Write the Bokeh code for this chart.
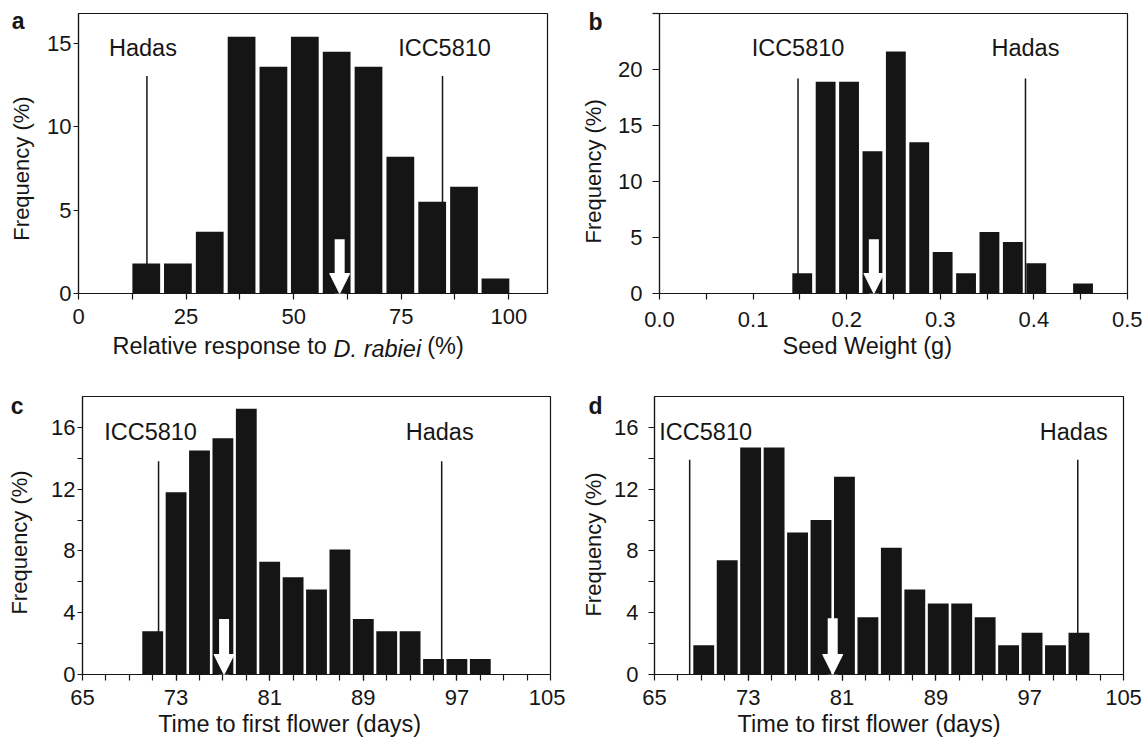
from bokeh.plotting import figure
from bokeh.models import Range1d, FixedTicker, Label, Arrow, NormalHead, NumeralTickFormatter, LinearAxis
from bokeh.layouts import row, column
from bokeh.embed import file_html
from bokeh.resources import INLINE

# ---------------- data ----------------
# (a) relative response to D. rabiei (%)
a_bins = [15.75, 23.1, 30.5, 37.9, 45.3, 52.6, 60.0, 67.4, 74.8, 82.2, 89.6, 96.9]
a_freq = [1.8, 1.8, 3.7, 15.4, 13.6, 15.4, 14.5, 13.6, 8.2, 5.5, 6.4, 0.9]
a_parents = ["Hadas", "ICC5810"]
a_parent_vals = [15.9, 84.6]
a_mean = 60.7

# (b) seed weight (g)
b_bins = [0.1525, 0.1775, 0.2025, 0.2275, 0.2525, 0.2775, 0.3025, 0.3275, 0.3525, 0.3775, 0.4025, 0.4525]
b_freq = [1.8, 18.9, 18.9, 12.7, 21.6, 13.5, 3.7, 1.8, 5.5, 4.6, 2.7, 0.9]
b_parents = ["ICC5810", "Hadas"]
b_parent_vals = [0.148, 0.391]
b_mean = 0.229

# (c) time to first flower (days)
c_bins = [71, 73, 75, 77, 79, 81, 83, 85, 87, 89, 91, 93, 95, 97, 99]
c_freq = [2.8, 11.8, 14.5, 15.3, 17.2, 7.3, 6.3, 5.5, 8.1, 3.6, 2.8, 2.8, 1.0, 1.0, 1.0]
c_parents = ["ICC5810", "Hadas"]
c_parent_vals = [71.5, 95.7]
c_mean = 77.1

# (d) time to first flower (days)
d_bins = [69.2, 71.2, 73.2, 75.2, 77.2, 79.2, 81.2, 83.2, 85.2, 87.2, 89.2, 91.2, 93.2, 95.2, 97.2, 99.2, 101.2]
d_freq = [1.9, 7.4, 14.7, 14.7, 9.2, 10.0, 12.8, 3.7, 8.2, 5.5, 4.6, 4.6, 3.7, 1.9, 2.7, 1.9, 2.7]
d_parents = ["ICC5810", "Hadas"]
d_parent_vals = [68.0, 101.1]
d_mean = 80.2

# tick labels
a_xticks = [0, 25, 50, 75, 100]
a_yticks = [0, 5, 10, 15]
b_xticks = [0.0, 0.1, 0.2, 0.3, 0.4, 0.5]
b_yticks = [0, 5, 10, 15, 20]
cd_xticks = [65, 73, 81, 89, 97, 105]
cd_yticks = [0, 4, 8, 12, 16]

# axis titles
Y_TITLE = "Frequency (%)"
A_X_TITLE = ["Relative response to", "D. rabiei", "(%)"]
B_X_TITLE = "Seed Weight (g)"
CD_X_TITLE = "Time to first flower (days)"

# ---------------- styling ----------------
FONT = "Liberation Sans"
INK = "#161616"
TICK_FS = "22px"
LAB_FS = "23.5px"
YLAB_FS = "22px"
LET_FS = "23px"


def base_fig(width, height, lb, rb, tb, bb, xr, yr):
    p = figure(width=width, height=height, x_range=Range1d(*xr), y_range=Range1d(*yr),
               output_backend="svg", toolbar_location=None, tools="",
               min_border_left=lb, min_border_right=rb, min_border_top=tb, min_border_bottom=bb)
    p.xgrid.visible = False
    p.ygrid.visible = False
    p.background_fill_color = "white"
    p.border_fill_color = "white"
    p.outline_line_color = INK
    p.outline_line_width = 1.2
    p.outline_line_alpha = 1
    for ax in (p.xaxis[0], p.yaxis[0]):
        ax.axis_line_color = INK
        ax.axis_line_width = 1.2
        ax.major_tick_line_color = INK
        ax.minor_tick_line_color = INK
        ax.major_tick_line_width = 1.2
        ax.minor_tick_line_width = 1.2
        ax.major_tick_in = 0
        ax.minor_tick_in = 0
        ax.major_tick_out = 6
        ax.minor_tick_out = 6
        ax.major_label_text_font = FONT
        ax.major_label_text_font_size = TICK_FS
        ax.major_label_text_color = INK
        ax.axis_label = None
    return p


def text_axis(p, side, ticks, labels, standoff, style="normal", size=LAB_FS, orient="horizontal"):
    """An axis without line/ticks whose tick labels carry titles / panel letters."""
    ax = LinearAxis(ticker=FixedTicker(ticks=ticks, minor_ticks=[]),
                    major_label_overrides=dict(zip(ticks, labels)))
    ax.axis_line_color = None
    ax.major_tick_line_color = None
    ax.minor_tick_line_color = None
    ax.major_tick_in = 0
    ax.major_tick_out = 0
    ax.minor_tick_in = 0
    ax.minor_tick_out = 0
    ax.major_label_standoff = standoff
    ax.major_label_orientation = orient
    ax.major_label_text_font = FONT
    ax.major_label_text_font_size = size
    ax.major_label_text_font_style = style
    ax.major_label_text_color = INK
    p.add_layout(ax, side)
    return ax


def lbl(p, x, y, text, **kw):
    opts = dict(text_font=FONT, text_font_size=LAB_FS, text_color=INK)
    opts.update(kw)
    p.add_layout(Label(x=x, y=y, text=text, **opts))


def panel(p, bins, freq, bw, names, vals, line_top, name_y, name_offs, mean, arrow_top,
          ylab_y, ylab_standoff, letter, letter_y, letter_standoff):
    p.vbar(x=bins, top=freq, width=bw, bottom=0, fill_color="#151515", line_color=None)
    p.segment(x0=vals, y0=[0] * len(vals), x1=vals, y1=[line_top] * len(vals),
              line_color=INK, line_width=1.5)
    for n, v, o in zip(names, vals, name_offs):
        lbl(p, v, name_y, n, x_offset=o, text_align="center", text_baseline="alphabetic")
    p.add_layout(Arrow(end=NormalHead(size=20, fill_color="white", line_color="white", line_width=1),
                       x_start=mean, y_start=arrow_top, x_end=mean, y_end=0,
                       line_color="white", line_width=10))
    text_axis(p, "left", [ylab_y], [Y_TITLE], ylab_standoff, size=YLAB_FS, orient="parallel")
    text_axis(p, "left", [letter_y], [letter], letter_standoff, style="bold", size=LET_FS)


# ---------------- panel a ----------------
pa = base_fig(565, 366, 78, 18, 13, 71, (0, 109), (0, 16.8))
pa.xaxis[0].ticker = FixedTicker(ticks=a_xticks, minor_ticks=[12.5, 37.5, 62.5, 87.5])
pa.yaxis[0].ticker = FixedTicker(ticks=a_yticks, minor_ticks=[])
pa.yaxis[0].major_tick_out = 5
pa.yaxis[0].major_label_standoff = 2
pa.xaxis[0].major_label_standoff = 9
panel(pa, a_bins, a_freq, 6.45, a_parents, a_parent_vals, 13.05, 14.76, [-4, 2],
      a_mean, 3.25, 7.5, 11, "a", 16.35, -19)
text_axis(pa, "below", [32.8, 85.3], [A_X_TITLE[0], A_X_TITLE[2]], 6)
text_axis(pa, "below", [69.46], [A_X_TITLE[1]], -26, style="italic")

# ---------------- panel b ----------------
pb = base_fig(577, 366, 94, 15, 12, 73, (0, 0.5), (0, 25))
pb.xaxis[0].ticker = FixedTicker(ticks=b_xticks, minor_ticks=[0.05, 0.15, 0.25, 0.35, 0.45])
pb.xaxis[0].formatter = NumeralTickFormatter(format="0.0")
pb.yaxis[0].ticker = FixedTicker(ticks=b_yticks, minor_ticks=[25])
pb.yaxis[0].major_tick_out = 7
pb.yaxis[0].minor_tick_out = 7
pb.yaxis[0].major_label_standoff = 10
pb.xaxis[0].major_label_standoff = 12
panel(pb, b_bins, b_freq, 0.0212, b_parents, b_parent_vals, 19.2, 21.9, [0, 0],
      b_mean, 4.84, 10.9, 9, "b", 24.2, -24)
text_axis(pb, "below", [0.222], [B_X_TITLE], 3)

# ---------------- panel c ----------------
cd_minor = list(range(67, 105, 2))
pc = base_fig(565, 373, 82, 15, 30, 63, (65, 105), (0, 18))
pc.xaxis[0].ticker = FixedTicker(ticks=cd_xticks, minor_ticks=cd_minor)
pc.yaxis[0].ticker = FixedTicker(ticks=cd_yticks, minor_ticks=[2, 6, 10, 14])
pc.yaxis[0].major_tick_out = 5
pc.yaxis[0].minor_tick_out = 5
pc.yaxis[0].major_label_standoff = 2
pc.xaxis[0].major_label_standoff = 9
panel(pc, c_bins, c_freq, 1.78, c_parents, c_parent_vals, 13.8, 15.7, [-8, -2],
      c_mean, 3.6, 8.55, 16, "c", 17.4, -19)
text_axis(pc, "below", [82.7], [CD_X_TITLE], 3)

# ---------------- panel d ----------------
pd_ = base_fig(577, 373, 89, 19, 30, 63, (65, 105), (0, 18))
pd_.xaxis[0].ticker = FixedTicker(ticks=cd_xticks, minor_ticks=cd_minor)
pd_.yaxis[0].ticker = FixedTicker(ticks=cd_yticks, minor_ticks=[2, 6, 10, 14])
pd_.yaxis[0].major_label_standoff = 10
pd_.xaxis[0].major_label_standoff = 9
panel(pd_, d_bins, d_freq, 1.78, d_parents, d_parent_vals, 13.9, 15.7, [16, -4],
      d_mean, 3.64, 8.42, 5, "d", 17.4, -24)
text_axis(pd_, "below", [83.3], [CD_X_TITLE], 3)

layout = column(row(pa, pb), row(pc, pd_))
open("out.html", "w").write(file_html(layout, INLINE))
